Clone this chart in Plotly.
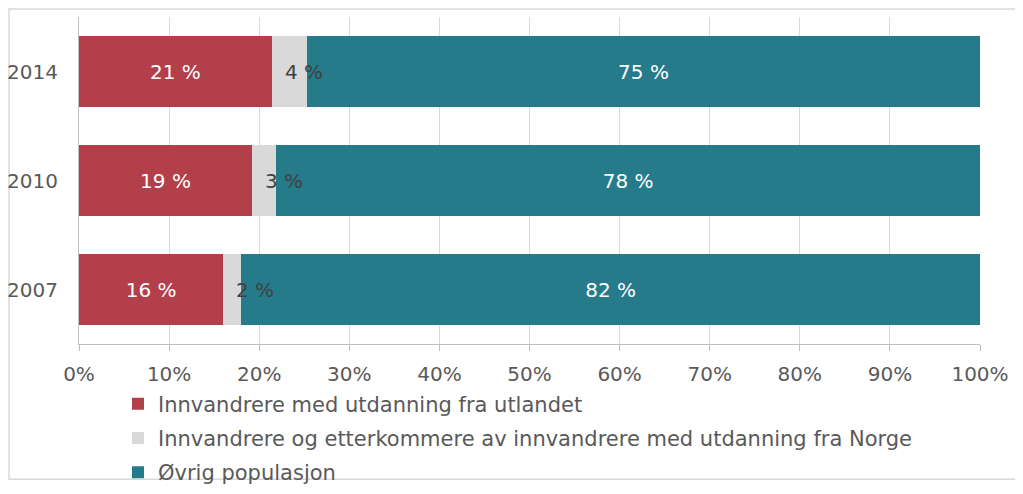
import plotly.graph_objects as go

years = ["2007", "2010", "2014"]
innv_utland = [16.0, 19.2, 21.4]
innv_norge = [2.0, 2.7, 3.9]
ovrig = [82.0, 78.1, 74.7]
lbl_utland = ["16 %", "19 %", "21 %"]
lbl_norge = ["2 %", "3 %", "4 %"]
lbl_ovrig = ["82 %", "78 %", "75 %"]
names = ["Innvandrere med utdanning fra utlandet",
         "Innvandrere og etterkommere av innvandrere med utdanning fra Norge",
         "Øvrig populasjon"]
colors = ["#b33f4b", "#d9d9d9", "#267b8a"]
xticks = [0, 10, 20, 30, 40, 50, 60, 70, 80, 90, 100]

FONT = "DejaVu Sans"
W, H = 1023, 494
OFF = 8                      # default page body margin
PL, PR, PT, PB = 79, 980, 17, 348   # plot area in screen pixels
L, R, T, B = PL - OFF, OFF + W - PR, PT - OFF, 135
pw, ph = PR - PL, PB - PT

def px(x):
    return (x - PL) / pw

def py(y):
    return (PB - y) / ph

fig = go.Figure()
fig.add_trace(go.Bar(y=years, x=innv_utland, orientation="h", name=names[0],
                     marker=dict(color=colors[0], line=dict(width=0)),
                     text=lbl_utland, textposition="inside", insidetextanchor="middle",
                     textfont=dict(color="white", size=20, family=FONT),
                     legendgroup="a", hoverinfo="skip"))
fig.add_trace(go.Bar(y=years, x=innv_norge, orientation="h", name=names[1],
                     marker=dict(color=colors[1], line=dict(width=0)),
                     textposition="none", legendgroup="b", hoverinfo="skip"))
fig.add_trace(go.Bar(y=years, x=ovrig, orientation="h", name=names[2],
                     marker=dict(color=colors[2], line=dict(width=0)),
                     text=lbl_ovrig, textposition="inside", insidetextanchor="middle",
                     textfont=dict(color="white", size=20, family=FONT),
                     legendgroup="c", hoverinfo="skip"))

for i, (a, t) in enumerate(zip(innv_utland, lbl_norge)):
    fig.add_annotation(x=a, y=i, text=t, showarrow=False, xanchor="left", xshift=11,
                       font=dict(color="#404040", size=20, family=FONT))

fig.add_shape(type="rect", xref="paper", yref="paper",
              x0=px(OFF + 1), x1=px(1020), y0=py(485), y1=py(OFF + 1),
              line=dict(color="#d9d9d9", width=1.5), fillcolor="rgba(0,0,0,0)", layer="below")

fig.update_layout(
    width=W, height=H, barmode="stack", bargap=0.34,
    margin=dict(l=L, r=R, t=T, b=B),
    paper_bgcolor="white", plot_bgcolor="white",
    font=dict(family=FONT, size=20, color="#595959"),
    showlegend=True,
    legend=dict(orientation="v", x=px(118), xanchor="left",
                y=py(388), yanchor="top",
                traceorder="grouped", tracegroupgap=4,
                font=dict(size=21, color="#595959", family=FONT),
                bgcolor="rgba(0,0,0,0)", itemclick=False),
    xaxis=dict(range=[0, 100], tickvals=xticks, ticktext=[f"{v}%" for v in xticks],
               showgrid=True, gridcolor="#d9d9d9", gridwidth=1,
               showline=True, linecolor="#bfbfbf", linewidth=1,
               ticks="outside", ticklen=6, tickcolor="#bfbfbf", ticklabelstandoff=6,
               zeroline=False, fixedrange=True, automargin=False,
               tickfont=dict(size=20, color="#595959", family=FONT)),
    yaxis=dict(type="category", categoryorder="array", categoryarray=years,
               range=[-0.5, 2.5], autorange=False,
               showline=True, linecolor="#bfbfbf", linewidth=1,
               ticks="", ticklabelstandoff=16, showgrid=False, fixedrange=True,
               automargin=False,
               tickfont=dict(size=20, color="#595959", family=FONT)),
)

fig.write_html("out.html", config={"displayModeBar": False})
